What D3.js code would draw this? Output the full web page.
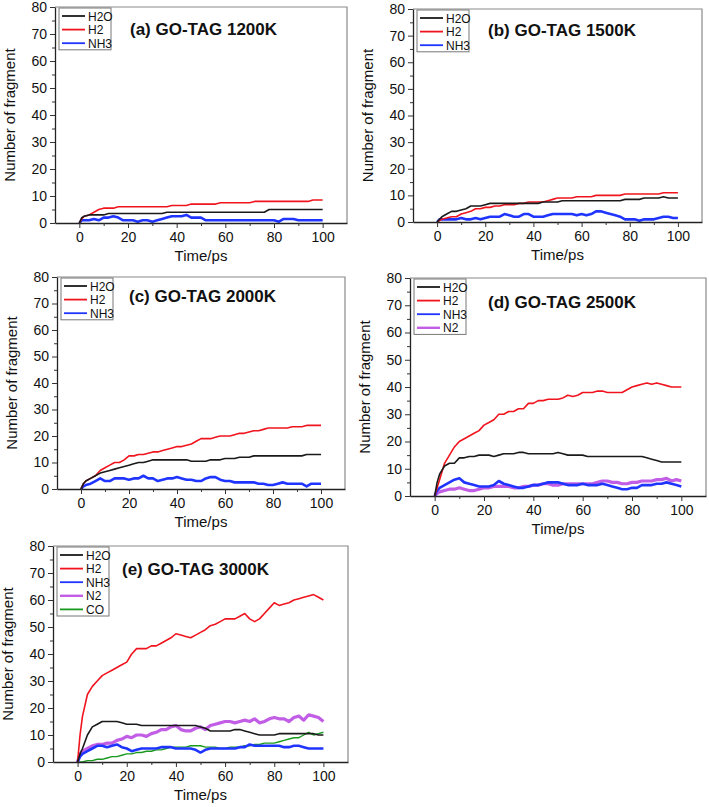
<!DOCTYPE html>
<html>
<head>
<meta charset="utf-8">
<script src="https://d3js.org/d3.v7.min.js"></script>
<style>
  body { margin: 0; background: #fff; }
  svg { font-family: "Liberation Sans", Arial, sans-serif; }
</style>
</head>
<body>
<script>
// time axis shared by all series (ps)
var time = [0,1,2,4,6,8,10,12,14,16, 18,20,22,24,26,28,30,32,34,36, 38,40,42,44,46,48,50,52,54,56,
            58,60,62,64,66,68,70,72,74,76, 78,80,82,84,86,88,90,92,94,96, 98,100];

// (a) 1200K
var h2oA = [0,2,2.5,3,3,3,3,3.5,3.5,3.5, 3.5,3.5,3.5,3.5,3.5,3.5,3.5,3.5,3.5,4, 4,4,4,4,4,4,4,4,4,4,
            4,4,4,4,4,4,4,4,4,4, 5,5,5,5,5,5,5,5,5,5, 5,5];
var h2A  = [0,1.5,2.5,3,4,5,5.5,5.5,5.5,6, 6,6,6,6,6,6,6,6,6,6, 6.5,6.5,6.5,6.5,7,7,7,7,7,7,
            7.5,7.5,7.5,7.5,7.5,7.5,7.5,8,8,8, 8,8,8,8,8,8,8,8,8,8.5, 8.5,8.5];
var nh3A = [0,1,1,1,1.5,1,2,2,2.5,2, 1,1,1,0.5,1,1,0.5,1,1.5,2, 2.5,2.5,2.5,3,2,2,2,1,1,1,
            1,1,1,1,1,1,1,1,1,1, 1,1,0.5,1.5,1.5,1.5,1,1,1,1, 1,1];

// (b) 1500K
var h2oB = [0,1,2,3,4,4,4.5,5,6,6, 6,6.5,7,7,7,7,7,7,7,7, 7,7,7,7.5,7.5,7.5,7.5,8,8,8,
            8,8,8,8,8,8,8,8,8,8, 8.5,8.5,8.5,8.5,9,9,9,9,9.5,9, 9,9];
var h2B  = [0,0.5,1,1.5,2,2,3,3.5,4,5, 5,5.5,5.5,6,6,6.5,6.5,6.5,7,7, 7.5,7.5,7.5,7.5,8,8.5,9,9,9,9,
            9.5,9.5,9.5,9.5,10,10,10,10,10,10, 10.5,10.5,10.5,10.5,10.5,10.5,10.5,10.5,11,11, 11,11];
var nh3B = [0,1,1,1,1,1,1.5,1,1,1.5, 1,1.5,2,2,2,3,2.5,2,2,3, 3,2,2,2,2.5,3,3,3,3,3,
            2.5,3,2.5,3,4,4,3.5,3,2.5,2, 1,1,1,0.5,1,1,1,1.5,2,2, 1.5,1.5];

// (c) 2000K
var h2oC = [0,2,3,4,5,6,6.5,7,7.5,8, 8.5,9,9.5,10,10,10.5,11,11,11,11, 11,11,11,11,10.5,10.5,10.5,10.5,11,11,
            11,11.5,11.5,11.5,12,12,12,12.5,12.5,12.5, 12.5,12.5,12.5,12.5,12.5,12.5,12.5,12.5,13,13, 13,13];
var h2C  = [0,2,3,4,5,7,8,9,10,10, 11,12.5,12.5,13,13,13.5,14,14,14.5,15, 15.5,16,16,16.5,17,18,19,19,19,19.5,
            20,20,20,20.5,21,21,21.5,22,22,22.5, 23,23,23,23,23,23.5,23.5,23.5,24,24, 24,24];
var nh3C = [0,1,1.5,2,3,4,3,3,4,4, 4,3.5,4,4,5,4,4,3,3.5,4, 4,4.5,4,3.5,3.5,3,3,4,4.5,4.5,
            3.5,3,3,2.5,2.5,2.5,2.5,2.5,2,2, 1.5,1.5,2,2.5,2,2,2,2,1,2, 2,2];

// (d) 2500K
var h2oD = [0,5,8,11,12,12,14,14,14.5,14.5, 15,15,15,14.5,15,15.5,15.5,15.5,16,16, 15.5,15.5,15.5,15.5,15.5,15.5,16,15.5,15,15,
            15,15,14.5,14.5,14.5,14.5,14.5,14.5,14.5,14.5, 14.5,14.5,14.5,14.5,14,13.5,13,12.5,12.5,12.5, 12.5,12.5];
var h2D  = [0,3,6,12,15,18,20,21,22,23, 24,26,27,28,30,30,31,31,32,32, 34,34,35,35,35.5,35.5,35.5,36,37,36.5,
            37,38,38,38,38.5,38.5,38,38,38,38, 39,40,40.5,41,41.5,41,41.5,41,40.5,40, 40,40];
var nh3D = [0,2,3,4,5,6,6.5,5,4.5,4, 3.5,3.5,3.5,4,5.5,4.5,4,3.5,3,3, 3.5,4,4,4.5,5,5,5,4.5,4,4,
            4,4.5,4,4,4,4.5,4,3.5,3,2.5, 2.5,3,3,4,4,4,4.5,4.5,5,4.5, 4,3.5];
var n2D  = [0,1,1.5,2,2.5,2.5,3,2.5,2,2, 2.5,3,3,3.5,3.5,3.5,3.5,3,3,3.5, 3.5,4,4,4.5,4.5,4,4,4.5,4.5,4.5,
            4.5,4.5,4.5,4.5,5,5.5,5.5,5,5,4.5, 4.5,5,5,5.5,5.5,5.5,6,6,6.5,5.5, 6,5.5];

// (e) 3000K
var h2oE = [0,3,5,10,13,14,15,15,15,15, 14.5,14,14,14,13.5,13.5,13.5,13.5,13.5,13.5, 13.5,13.5,13.5,13.5,13.5,13.5,13,12.5,11.5,11.5,
            11.5,11.5,11.5,12,12,11.5,11,10.5,10,10, 10,10,10.5,10.5,10.5,10.5,10.5,10.5,10.5,10.5, 10,10];
var h2E  = [0,10,17,25,28,30,32,33,34,35, 36,37,40,42,42,42,43,43,44,45, 46,47.5,47,46.5,46,47,48,49,50.5,51,
            52,53,53,53,54,55,53,52,53,55, 57,59,58,58.5,59,60,60.5,61,61.5,62, 61,60];
var nh3E = [0,2,3,4,5,6,6,5.5,6,6.5, 5.5,5,4,4.5,5,5,5,5,5.5,5.5, 5.5,5,5,5,5,4.5,3.5,4.5,5,5,
            5,5,5,5,5.5,5.5,6.5,6,6,6, 6,6,6,5.5,5.5,6,6,5.5,5,5, 5,5];
var n2E  = [0,3,4,5,6,6.5,6.5,7,7,8, 8.5,9.5,9,10,10,9.5,10.5,11,12,12, 13,13.5,12,11.5,11.5,12.5,13,12,13.5,14,
            14.5,15,15,14.5,15,15.5,15,16,14.5,15, 16,16.5,16,16,15,16.5,17,15.5,17.5,17, 16.5,15];
var coE  = [0,0,0,0.5,0.5,1,1,1.5,2,2, 2.5,3,3,3.5,3.5,4,4,4.5,4.5,5, 5.5,5.5,5.5,5.5,6,6,6,5.5,5.5,5.5,
            5,5,5.5,5.5,5.5,6,6,6.5,6.5,7, 7,7,7.5,8,8.5,9,9,10,11,10, 10.5,11];

var yTicks = [0,10,20,30,40,50,60,70,80];
var yMinor = [5,15,25,35,45,55,65,75];
var xTicks = [0,20,40,60,80,100];
var xMinor = [10,30,50,70,90];

var colors = {H2O: "#1a1a1a", H2: "#f0141e", NH3: "#1f35ff", N2: "#c25ee6", CO: "#199a1e"};
var widths = {H2O: 1.6, H2: 1.6, NH3: 2.6, N2: 3.2, CO: 1.4};

var panels = [
  {title: "(a) GO-TAG 1200K", box: [55, 7, 347, 223], tpos: [75, 28],
   series: [["H2O", h2oA], ["H2", h2A], ["NH3", nh3A]]},
  {title: "(b) GO-TAG 1500K", box: [413, 9, 702, 222], tpos: [75, 27],
   series: [["H2O", h2oB], ["H2", h2B], ["NH3", nh3B]]},
  {title: "(c) GO-TAG 2000K", box: [57, 277, 345, 489], tpos: [72, 25],
   series: [["H2O", h2oC], ["H2", h2C], ["NH3", nh3C]]},
  {title: "(d) GO-TAG 2500K", box: [410, 278, 706, 496], tpos: [78, 30],
   series: [["H2O", h2oD], ["H2", h2D], ["NH3", nh3D], ["N2", n2D]]},
  {title: "(e) GO-TAG 3000K", box: [53, 546, 348, 762], tpos: [69, 29],
   series: [["H2O", h2oE], ["H2", h2E], ["NH3", nh3E], ["N2", n2E], ["CO", coE]]}
];

var svg = d3.select("body").append("svg")
    .attr("width", 709)
    .attr("height", 807);

svg.append("rect").attr("width", 709).attr("height", 807).attr("fill", "#fff");

panels.forEach(function(p) {
  var L = p.box[0], T = p.box[1], R = p.box[2], B = p.box[3];
  var x = d3.scaleLinear().domain([-10, 110]).range([L, R]);
  var y = d3.scaleLinear().domain([0, 80]).range([B, T]);
  var g = svg.append("g");

  // clip so lines stay inside frame
  var id = "clip" + p.title.charAt(1);
  g.append("clipPath").attr("id", id).append("rect")
      .attr("x", L).attr("y", T - 2).attr("width", R - L).attr("height", B - T + 2);

  // series, drawn back to front so black/red sit on top like the original
  var order = p.series.slice().reverse();
  var line = d3.line()
      .x(function(d, i) { return x(time[i]); })
      .y(function(d) { return y(d); });
  g.append("g").attr("clip-path", "url(#" + id + ")")
    .selectAll("path")
    .data(order)
    .enter().append("path")
      .attr("d", function(s) { return line(s[1]); })
      .attr("fill", "none")
      .attr("stroke", function(s) { return colors[s[0]]; })
      .attr("stroke-width", function(s) { return widths[s[0]]; })
      .attr("stroke-linejoin", "round");

  // frame top / right
  g.append("path")
      .attr("d", "M" + L + "," + T + "H" + R + "V" + B)
      .attr("fill", "none").attr("stroke", "#8a8a8a").attr("stroke-width", 1.2);

  // axes
  var ax = g.append("g").attr("transform", "translate(0," + B + ")")
      .call(d3.axisBottom(x).tickValues(xTicks).tickSize(5).tickSizeOuter(0).tickPadding(4));
  g.append("g").attr("transform", "translate(0," + B + ")")
      .call(d3.axisBottom(x).tickValues(xMinor).tickSize(3).tickFormat(""))
      .select(".domain").remove();
  var ay = g.append("g").attr("transform", "translate(" + L + ",0)")
      .call(d3.axisLeft(y).tickValues(yTicks).tickSize(5).tickSizeOuter(0).tickPadding(3));
  g.append("g").attr("transform", "translate(" + L + ",0)")
      .call(d3.axisLeft(y).tickValues(yMinor).tickSize(3).tickFormat(""))
      .select(".domain").remove();

  g.selectAll(".tick text").attr("font-size", 14).attr("fill", "#111")
      .style("font-family", "'Liberation Sans', Arial, sans-serif");
  g.selectAll(".domain").attr("stroke", "#222").attr("stroke-width", 1.3);
  g.selectAll(".tick line").attr("stroke", "#333");

  // axis titles
  g.append("text")
      .attr("x", (L + R) / 2).attr("y", B + 38)
      .attr("text-anchor", "middle").attr("font-size", 15).attr("fill", "#111")
      .text("Time/ps");
  g.append("text")
      .attr("transform", "translate(" + (L - 40) + "," + ((T + B) / 2) + ") rotate(-90)")
      .attr("text-anchor", "middle").attr("font-size", 15).attr("fill", "#111")
      .text("Number of fragment");

  // panel title
  g.append("text")
      .attr("x", L + p.tpos[0]).attr("y", T + p.tpos[1])
      .attr("font-size", 17).attr("font-weight", "bold").attr("fill", "#111")
      .text(p.title);

  // legend
  var lg = g.append("g").attr("transform", "translate(" + (L + 4) + "," + (T + 1) + ")");
  lg.append("rect")
      .attr("width", 52).attr("height", 13.6 * p.series.length + 1)
      .attr("fill", "#fff").attr("stroke", "#777").attr("stroke-width", 1);
  var item = lg.selectAll("g.item").data(p.series).enter().append("g")
      .attr("transform", function(d, i) { return "translate(0," + (8 + i * 13.6) + ")"; });
  item.append("line")
      .attr("x1", 3).attr("x2", 26)
      .attr("stroke", function(d) { return colors[d[0]]; })
      .attr("stroke-width", function(d) { return d[0] === "N2" ? 2.4 : 1.8; });
  item.append("text")
      .attr("x", 29).attr("y", 4.5)
      .attr("font-size", 12).attr("fill", "#111")
      .text(function(d) { return d[0]; });
});
</script>
</body>
</html>
